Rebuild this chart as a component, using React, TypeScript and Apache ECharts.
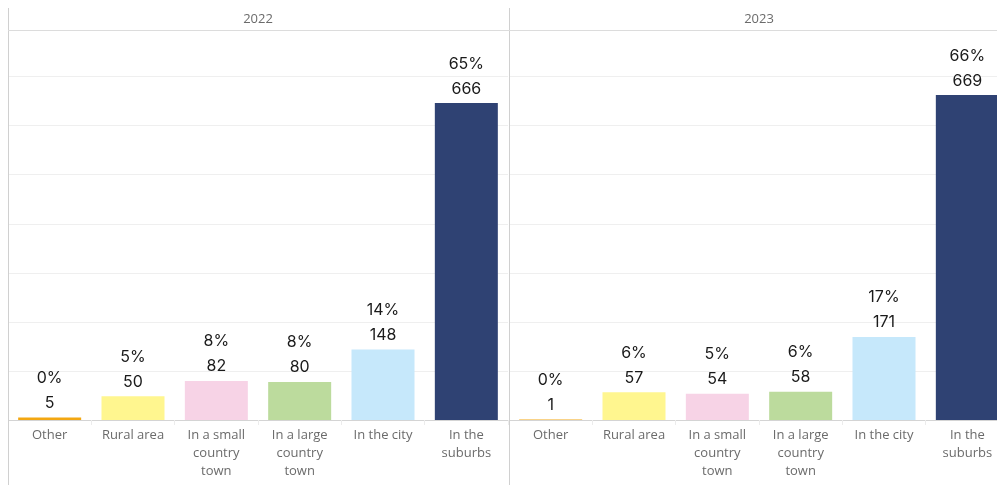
import React, { useEffect, useRef } from "react";
import * as echarts from "echarts";

const categories = ["Other", "Rural area", "In a small\ncountry\ntown", "In a large\ncountry\ntown", "In the city", "In the\nsuburbs"];
const years = ["2022", "2023"];
const counts2022 = [5, 50, 82, 80, 148, 666];
const counts2023 = [1, 57, 54, 58, 171, 669];
const barColors = ["#F3A712", "#FFF68F", "#F7D3E6", "#BCDB9D", "#C6E8FB", "#2F4273"];

const PANEL_W = 500;
const GAP_X = 501;
const TOP = 22;
const PLOT_H = 390;

function toPct(counts: number[]) {
  const total = counts.reduce((a, b) => a + b, 0);
  return counts.map((c) => (c / total) * 100);
}

export default function App() {
  const ref = useRef<HTMLDivElement>(null);
  useEffect(() => {
    if (!ref.current) return;
    const chart = echarts.init(ref.current, undefined, { renderer: "svg" });
    const allCounts = [counts2022, counts2023];
    const font = "'Open Sans', 'Noto Sans', sans-serif";
    const valFont = "Inter, 'Open Sans', sans-serif";
    const grids = years.map((_, i) => ({
      left: i === 0 ? 0 : GAP_X,
      top: TOP,
      width: PANEL_W,
      height: PLOT_H,
    }));
    const xAxes = years.map((_, i) => ({
      type: "category",
      gridIndex: i,
      data: categories,
      axisLine: { show: true, lineStyle: { color: "#d4d4d4", width: 1 } },
      axisTick: { show: true, length: 5, lineStyle: { color: "#ececec" } },
      axisLabel: {
        interval: 0,
        color: "#6b6b6b",
        fontSize: 13,
        lineHeight: 18,
        margin: 5,
        fontFamily: font,
      },
    }));
    const yAxes = years.map((_, i) => ({
      type: "value",
      gridIndex: i,
      min: 0,
      max: 79.5,
      interval: 10,
      axisLabel: { show: false },
      axisLine: { show: false },
      axisTick: { show: false },
      splitLine: { show: true, lineStyle: { color: "#efefef", width: 1 } },
    }));
    const series = years.map((_, i) => {
      const counts = allCounts[i];
      const pct = toPct(counts);
      return {
        type: "bar",
        xAxisIndex: i,
        yAxisIndex: i,
        barWidth: 63,
        data: pct.map((p, j) => ({
          value: p,
          count: counts[j],
          itemStyle: { color: barColors[j] },
        })),
        label: {
          show: true,
          position: "top",
          distance: 3,
          formatter: (params: any) =>
            `{p|${Math.round(params.value)}%}\n{v|${params.data.count}}`,
          rich: {
            p: { fontSize: 16, lineHeight: 25, color: "#1a1a1a", fontFamily: valFont },
            v: { fontSize: 16, lineHeight: 25, color: "#1a1a1a", fontFamily: valFont },
          },
        },
      };
    });
    const graphics: any[] = [
      {
        type: "line",
        shape: { x1: 0.5, y1: 0, x2: 0.5, y2: 477 },
        style: { stroke: "#d0d0d0", lineWidth: 1 },
        z: 10,
      },
      {
        type: "line",
        shape: { x1: GAP_X + 0.5, y1: 0, x2: GAP_X + 0.5, y2: 477 },
        style: { stroke: "#d0d0d0", lineWidth: 1 },
        z: 10,
      },
      {
        type: "line",
        shape: { x1: 0, y1: TOP + 0.5, x2: 1010, y2: TOP + 0.5 },
        style: { stroke: "#dcdcdc", lineWidth: 1 },
        z: 10,
      },
    ];
    years.forEach((y, i) => {
      graphics.push({
        type: "text",
        x: (i === 0 ? 0 : GAP_X) + PANEL_W / 2,
        y: 10,
        style: {
          text: y,
          fill: "#6b6b6b",
          fontSize: 13,
          fontFamily: font,
          align: "center",
          verticalAlign: "middle",
        },
        z: 10,
      });
    });
    chart.setOption({
      animation: false,
      grid: grids,
      xAxis: xAxes,
      yAxis: yAxes,
      series,
      graphic: graphics,
    });
    return () => chart.dispose();
  }, []);
  return (
    <div style={{ position: "fixed", top: 8, left: 8, width: 989, height: 477, overflow: "hidden" }}>
      <div ref={ref} style={{ width: 1010, height: 477 }} />
    </div>
  );
}
